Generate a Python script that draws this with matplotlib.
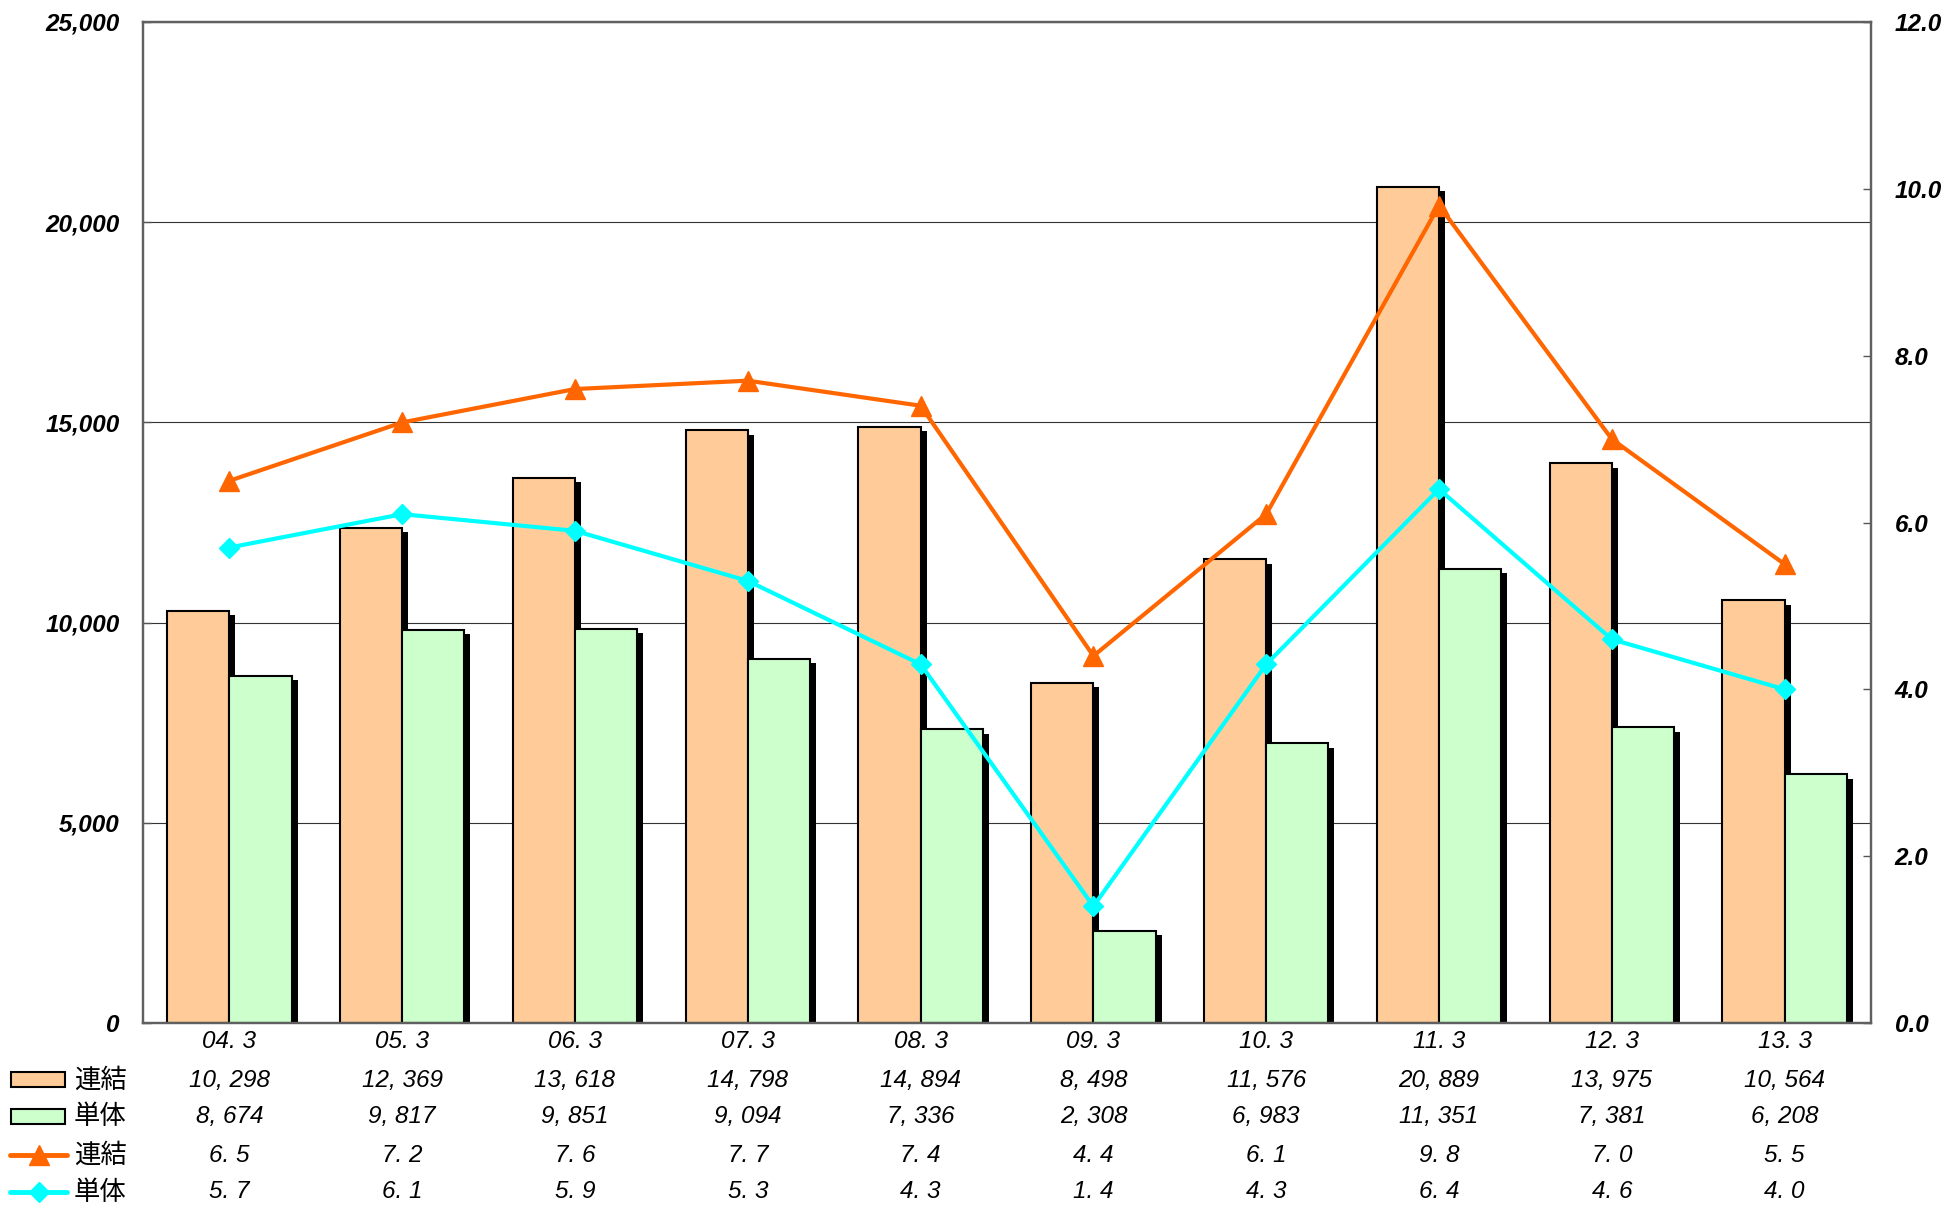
import matplotlib
matplotlib.use('Agg')
import matplotlib.pyplot as plt
import matplotlib.transforms as mtransforms
from matplotlib.patches import Rectangle
from matplotlib.lines import Line2D
import numpy as np

# データ
periods = ['04. 3', '05. 3', '06. 3', '07. 3', '08. 3', '09. 3', '10. 3', '11. 3', '12. 3', '13. 3']
renketsu_bar = [10298, 12369, 13618, 14798, 14894, 8498, 11576, 20889, 13975, 10564]
tantai_bar = [8674, 9817, 9851, 9094, 7336, 2308, 6983, 11351, 7381, 6208]
renketsu_line = [6.5, 7.2, 7.6, 7.7, 7.4, 4.4, 6.1, 9.8, 7.0, 5.5]
tantai_line = [5.7, 6.1, 5.9, 5.3, 4.3, 1.4, 4.3, 6.4, 4.6, 4.0]
row_names = ['連結', '単体', '連結', '単体']

c_peach = '#FFCC99'
c_green = '#CCFFCC'
c_orange = '#FF6600'
c_cyan = '#00FFFF'
jp_font = ['Noto Sans CJK JP', 'DejaVu Sans']
num_font = ['Liberation Sans', 'DejaVu Sans']

W, H = 1944, 1208
fig = plt.figure(figsize=(W / 100, H / 100), dpi=100)
ax = fig.add_axes([143 / W, 1 - 1023 / H, (1871 - 143) / W, (1023 - 22) / H])

x = np.arange(len(periods))
bw = 0.36

# 影
shadow = ax.transData + mtransforms.ScaledTranslation(0.06, -0.045, fig.dpi_scale_trans)
ax.bar(x - bw / 2, renketsu_bar, bw, color='black', transform=shadow, zorder=1)
ax.bar(x + bw / 2, tantai_bar, bw, color='black', transform=shadow, zorder=1)
# 棒
ax.bar(x - bw / 2, renketsu_bar, bw, color=c_peach, edgecolor='black', linewidth=1.5, zorder=2)
ax.bar(x + bw / 2, tantai_bar, bw, color=c_green, edgecolor='black', linewidth=1.5, zorder=2)

ax.set_xlim(-0.5, len(periods) - 0.5)
ax.set_ylim(0, 25000)
ax.set_yticks(range(0, 25001, 5000))
ax.set_yticklabels(['{:,}'.format(v) for v in range(0, 25001, 5000)],
                   family=num_font, style='italic', weight='bold', fontsize=17.5)
ax.set_xticks([])
ax.yaxis.grid(True, color='#333333', linewidth=0.8, zorder=0)
ax.set_axisbelow(True)
ax.tick_params(axis='y', direction='in', length=6, width=1, color='#555555', pad=17)

ax2 = ax.twinx()
ax2.plot(x, renketsu_line, color=c_orange, linewidth=3, marker='^', markersize=15, zorder=3)
ax2.plot(x, tantai_line, color=c_cyan, linewidth=3, marker='D', markersize=10, zorder=3)
ax2.set_ylim(0, 12)
ax2.set_yticks(np.arange(0, 12.1, 2))
ax2.set_yticklabels(['{:.1f}'.format(v) for v in np.arange(0, 12.1, 2)],
                    family=num_font, style='italic', weight='bold', fontsize=17.5)
ax2.tick_params(axis='y', direction='in', length=6, width=1, color='#555555', pad=17)

for a in (ax, ax2):
    for s in a.spines.values():
        s.set_color('#606060')
        s.set_linewidth(1.6)

# データテーブル
tr = mtransforms.blended_transform_factory(ax.transData, fig.transFigure)
row_y = [1 - 1080 / H, 1 - 1117 / H, 1 - 1155 / H, 1 - 1192 / H]
for i, p in enumerate(periods):
    ax.text(i, 1 - 1041 / H, p, transform=tr, ha='center', va='center',
            family=num_font, style='italic', fontsize=17.5)
rows = [['{:,}'.format(v).replace(',', ', ') for v in renketsu_bar],
        ['{:,}'.format(v).replace(',', ', ') for v in tantai_bar],
        ['{:.1f}'.format(v).replace('.', '. ') for v in renketsu_line],
        ['{:.1f}'.format(v).replace('.', '. ') for v in tantai_line]]
for r, vals in enumerate(rows):
    for i, v in enumerate(vals):
        ax.text(i, row_y[r], v, transform=tr, ha='center', va='center',
                family=num_font, style='italic', fontsize=17.5)

# 凡例キー
fig.add_artist(Rectangle((11 / W, row_y[0] - 7 / H), 54 / W, 15 / H, transform=fig.transFigure,
                         facecolor=c_peach, edgecolor='black', linewidth=1.5))
fig.add_artist(Rectangle((11 / W, row_y[1] - 7 / H), 54 / W, 15 / H, transform=fig.transFigure,
                         facecolor=c_green, edgecolor='black', linewidth=1.5))
fig.add_artist(Line2D([10 / W, 67 / W], [row_y[2], row_y[2]], transform=fig.transFigure,
                      color=c_orange, linewidth=3.5, solid_capstyle='round'))
fig.add_artist(Line2D([10 / W, 67 / W], [row_y[3], row_y[3]], transform=fig.transFigure,
                      color=c_cyan, linewidth=3.5, solid_capstyle='round'))
fig.add_artist(Line2D([38.5 / W], [row_y[2]], transform=fig.transFigure,
                      color=c_orange, marker='^', markersize=15, linestyle='none'))
fig.add_artist(Line2D([38.5 / W], [row_y[3]], transform=fig.transFigure,
                      color=c_cyan, marker='D', markersize=10, linestyle='none'))
for r, name in enumerate(row_names):
    fig.text(74 / W, row_y[r], name, ha='left', va='center', family=jp_font, fontsize=19)

fig.savefig('out.png', dpi=100)
